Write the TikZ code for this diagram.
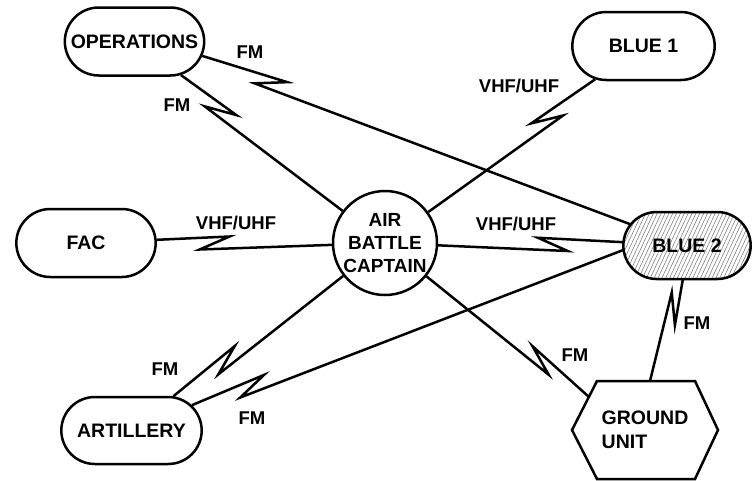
\documentclass[tikz,border=0pt]{standalone}
\usepackage{fontspec}
\setsansfont{Liberation Sans}
\usetikzlibrary{calc,shapes.misc,patterns.meta}

% radio link with a lightning break: from, to, position of the break, side (90 or -90)
\newcommand{\radiolink}[4]{%
  \path (#1) -- (#2) coordinate[pos=#3] (rl-m) coordinate[pos=1] (rl-e);
  \coordinate (rl-a) at ($(rl-m)!15pt!(rl-e)$);
  \coordinate (rl-b) at ($(rl-m)!-15pt!(rl-e)$);
  \draw[link] (#1) -- ($(rl-a)!6.5pt!#4:(rl-e)$) -- ($(rl-b)!-6.5pt!#4:(rl-e)$) -- (#2);
}

\begin{document}
\begin{tikzpicture}[x=1pt,y=-1pt,
  station/.style={rounded rectangle, draw, line width=2.5pt, minimum width=146pt,
    minimum height=68pt, font=\sffamily\bfseries\fontsize{19.5}{23}\selectfont},
  link/.style={line width=2.5pt},
  lbl/.style={font=\sffamily\bfseries\fontsize{18.5}{22}\selectfont}]

\useasboundingbox (0,0) rectangle (755,480);

% stations
\node[station] (ops) at (134.5,41.5) {OPERATIONS};
\node[station, minimum width=149pt] (blue1) at (643.5,46) {BLUE 1};
\node[station] (fac) at (86,243) {FAC};
\node[station, minimum width=134pt, minimum height=67pt,
      pattern={Lines[angle=65,distance=3.5pt,line width=0.6pt]}, pattern color=black!50]
  (blue2) at (687,245.5) {BLUE 2};
\node[station, minimum width=147pt, minimum height=67pt] (art) at (131.5,430.5) {ARTILLERY};

% air battle captain
\node[circle, draw, line width=2.5pt, minimum size=104pt, inner sep=0pt, align=center,
      font=\sffamily\bfseries\fontsize{19}{23}\selectfont] (abc) at (385,243) {AIR\\BATTLE\\CAPTAIN};

% ground unit (hexagon)
\node[align=left, font=\sffamily\bfseries\fontsize{19.5}{23.5}\selectfont] (gu) at (645,430) {GROUND\\UNIT};
\draw[line width=2.5pt] (gu) ++(-48,-49) -- ++(98,0) -- ++(23,49) -- ++(-23,49)
  -- ++(-98,0) -- ++(-25,-49) -- cycle;
\coordinate (gu-nw) at (589,397);
\coordinate (gu-n) at (650,381);

% links
\radiolink{ops.-12}{blue2}{0.16}{90}
\radiolink{ops}{abc}{0.26}{90}
\radiolink{blue1}{abc}{0.30}{-90}
\radiolink{fac}{abc}{0.33}{90}
\radiolink{abc}{blue2}{0.62}{-90}
\radiolink{abc}{art}{0.70}{90}
\radiolink{blue2.184}{art}{0.865}{90}
\radiolink{abc}{gu-nw}{0.70}{-90}
\radiolink{gu-n}{blue2.263}{0.71}{90}

% link labels
\node[lbl] (fm-ops1) at (250,52) {FM};
\node[lbl] (fm-ops2) at (177,105) {FM};
\node[lbl] (vhf-blue1) at (519,86) {VHF/UHF};
\node[lbl] (vhf-fac) at (236,223) {VHF/UHF};
\node[lbl] (vhf-blue2) at (516,224) {VHF/UHF};
\node[lbl] (fm-art1) at (165,369) {FM};
\node[lbl] (fm-art2) at (252,418) {FM};
\node[lbl] (fm-gu1) at (575,355) {FM};
\node[lbl] (fm-gu2) at (697,323) {FM};

\end{tikzpicture}
\end{document}
